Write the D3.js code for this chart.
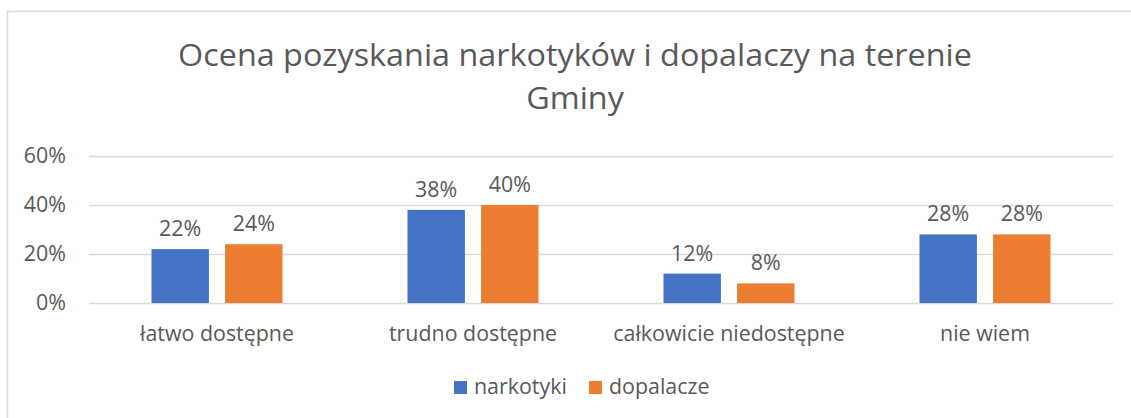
<!DOCTYPE html>
<html><head><meta charset="utf-8">
<script src="https://cdn.jsdelivr.net/npm/d3@7"></script>
<style>
html,body{margin:0;padding:0;background:#fff;}
svg{display:block;}
text{font-family:"Open Sans","Noto Sans",sans-serif;fill:#595959;}
</style></head>
<body><svg id="c" width="1131" height="418"></svg>
<script>
const categories = ["łatwo dostępne", "trudno dostępne", "całkowicie niedostępne", "nie wiem"];
const seriesNames = ["narkotyki", "dopalacze"];
const narkotyki = [0.22, 0.38, 0.12, 0.28];
const dopalacze = [0.24, 0.40, 0.08, 0.28];
const yTicks = [0, 0.2, 0.4, 0.6];
const colors = ["#4472C4", "#ED7D31"];
const titleLines = ["Ocena pozyskania narkotyków i dopalaczy na terenie", "Gminy"];

const svg = d3.select("#c");
// chart border
svg.append("rect").attr("x", 7.5).attr("y", 11.5).attr("width", 1140).attr("height", 420)
  .attr("fill", "none").attr("stroke", "#d9d9d9").attr("stroke-width", 1.5);

const plot = {left: 89, right: 1113, top: 156, bottom: 303};
const x0 = d3.scaleBand().domain(categories).range([plot.left, plot.right]).paddingInner(0).paddingOuter(0);
const y = d3.scaleLinear().domain([0, 0.6]).range([plot.bottom, plot.top]);
const groupW = 131;
const x1 = d3.scaleBand().domain(seriesNames).range([0, groupW]).paddingInner(0.22).paddingOuter(0);

function widthOf(str, size, weight) {
  const t = svg.append("text").attr("font-size", size).text(str);
  if (weight) t.attr("font-weight", weight);
  const w = t.node().getComputedTextLength();
  t.remove();
  return w;
}
const baseSize = 18 * 154 / widthOf("łatwo dostępne", 18);
const titleSize = 31;
const titleScale = 794 / widthOf(titleLines[0], titleSize, 400);

// title
svg.append("g").selectAll("text").data(titleLines).join("text")
  .attr("transform", (d, i) => `translate(575,${66 + i * 43}) scale(${titleScale},1)`)
  .attr("text-anchor", "middle").attr("font-size", titleSize)
  .text(d => d);

// gridlines + y labels
const yAxis = d3.axisLeft(y).tickValues(yTicks).tickFormat(d3.format(".0%")).tickSize(-(plot.right - plot.left)).tickPadding(23);
const ga = svg.append("g").attr("transform", `translate(${plot.left},0)`).call(yAxis);
ga.select(".domain").remove();
ga.selectAll(".tick line").attr("stroke", "#d9d9d9").attr("stroke-width", 1.3);
ga.selectAll(".tick text").attr("font-size", baseSize).style("font-family", null).attr("fill", "#595959");

// bars
const data = categories.map((c, i) => ({cat: c, vals: [narkotyki[i], dopalacze[i]]}));
const groups = svg.append("g").selectAll("g").data(data).join("g")
  .attr("transform", d => `translate(${x0(d.cat) + x0.bandwidth() / 2 - groupW / 2},0)`);
groups.selectAll("rect").data(d => d.vals.map((v, k) => ({name: seriesNames[k], v, k}))).join("rect")
  .attr("x", d => x1(d.name)).attr("width", x1.bandwidth())
  .attr("y", d => y(d.v)).attr("height", d => y(0) - y(d.v))
  .attr("fill", d => colors[d.k]);
groups.selectAll("text").data(d => d.vals.map((v, k) => ({name: seriesNames[k], v, k}))).join("text")
  .attr("x", d => x1(d.name) + x1.bandwidth() / 2).attr("y", d => y(d.v) - 13)
  .attr("text-anchor", "middle").attr("font-size", baseSize)
  .text(d => d3.format(".0%")(d.v));

// category labels
const xAxis = d3.axisBottom(x0).tickSize(0).tickPadding(0);
const gx = svg.append("g").attr("transform", `translate(0,${plot.bottom})`).call(xAxis);
gx.select(".domain").remove();
gx.selectAll(".tick text").attr("font-size", baseSize).style("font-family", null)
  .attr("fill", "#595959").attr("dy", null).attr("y", 38);

// legend
const legendItems = [{name: seriesNames[0], x: 454}, {name: seriesNames[1], x: 589}];
const lg = svg.append("g").selectAll("g").data(legendItems).join("g")
  .attr("transform", d => `translate(${d.x},381)`);
lg.append("rect").attr("width", 13).attr("height", 13).attr("fill", (d, i) => colors[i]);
lg.append("text").attr("x", 20).attr("y", 13).attr("font-size", baseSize).text(d => d.name);
</script></body></html>
